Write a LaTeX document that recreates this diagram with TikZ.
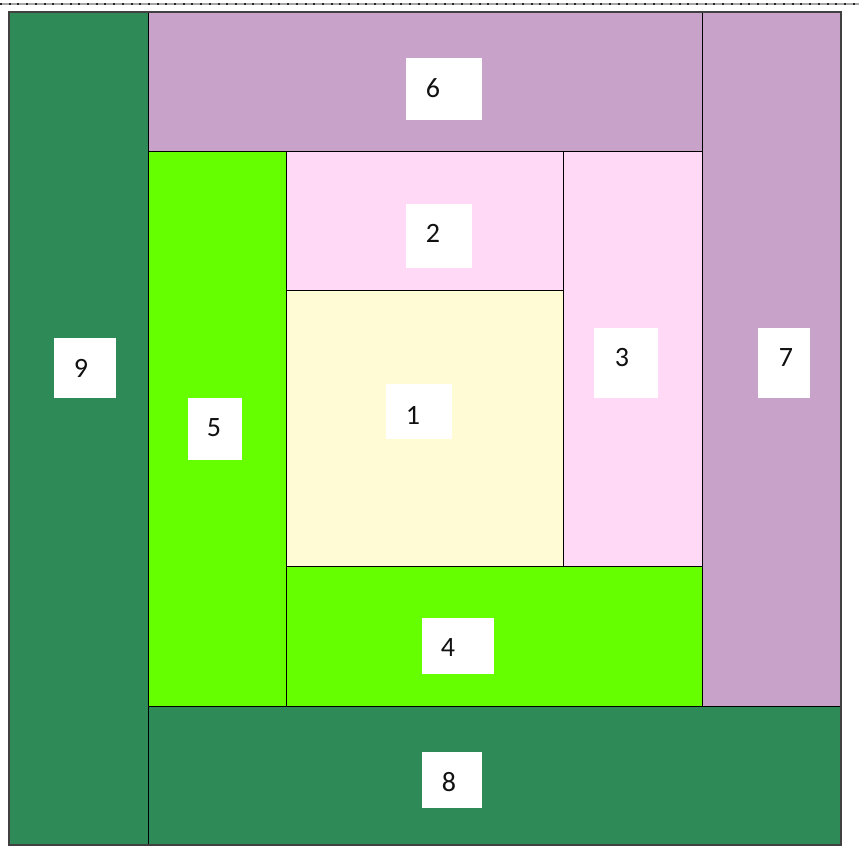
\documentclass[tikz,border=0pt]{standalone}
\usepackage{fontspec}
\setmainfont{Carlito}
\usepackage{xcolor}
\usepackage{tikz}
\usetikzlibrary{positioning}
\definecolor{seagrn}{HTML}{2E8B57}
\definecolor{lilac}{HTML}{C8A2C8}
\definecolor{blush}{HTML}{FFD9F6}
\definecolor{cream}{HTML}{FFFBD5}
\definecolor{lime}{HTML}{66FF00}
\definecolor{ink}{HTML}{111111}

\begin{document}
\begin{tikzpicture}[x=1pt,y=-1pt,every node/.style={font=\fontsize{28}{32}\selectfont,text=ink}]
  \useasboundingbox (0,0) rectangle (859,848);
  \draw[gray!70,line width=1.2pt] (0,4)--(859,4);
  \draw[black!85,line width=1.2pt,dash pattern=on 2pt off 6.7pt] (0,4)--(859,4);
  % logs, from the centre out
  \foreach \xa/\ya/\xb/\yb/\c in {286/290/563/566/cream,286/151/563/290/blush,563/151/702/566/blush,
      286/566/702/706/lime,148/151/286/706/lime,148/12/702/151/lilac,702/12/841/706/lilac,
      148/706/841/845/seagrn,9/12/148/845/seagrn}{
    \draw[black,line width=0.9pt,fill=\c] (\xa,\ya) rectangle (\xb,\yb);}
  \draw[black!75,line width=1.3pt] (9,12) rectangle (841,845);
  % number tags
  \foreach \n/\xa/\ya/\xb/\yb/\tx/\ty in {1/386/384/452/439/413/415,2/406/204/472/268/433/233,
      3/594/328/658/398/622/358,4/422/618/494/674/448/648,5/188/398/242/460/214/428,
      6/406/58/482/120/433/88,7/758/328/810/398/786/358,8/422/752/482/808/449/782,
      9/54/338/116/398/81/368}{
    \fill[white] (\xa,\ya) rectangle (\xb,\yb);
    \node (tag\n) at (\tx,\ty) {\n};}
\end{tikzpicture}
\end{document}
